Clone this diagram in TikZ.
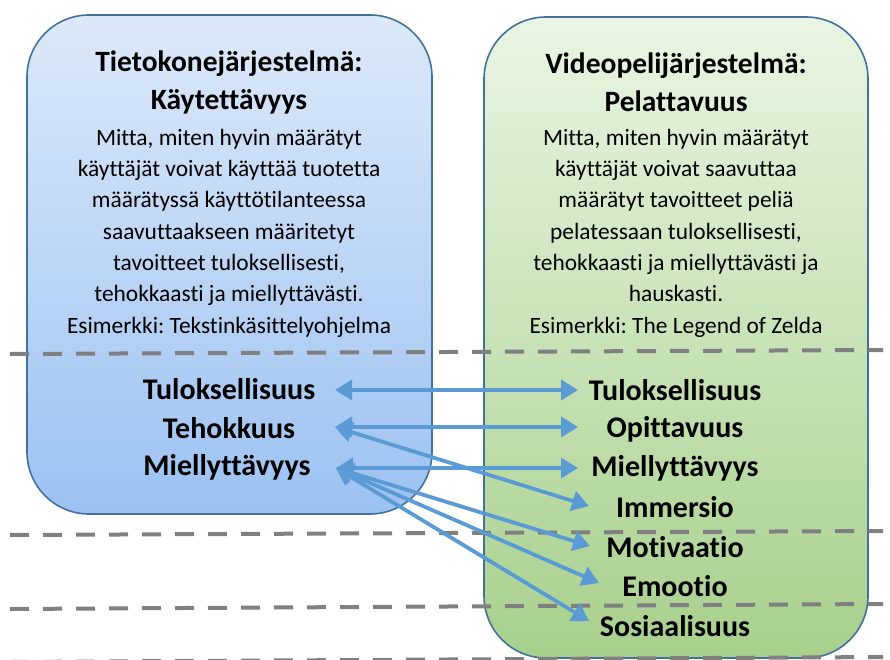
\documentclass[tikz,border=0pt]{standalone}
\usepackage{fontspec}
\setmainfont{Carlito}[Ligatures={NoCommon}]
\frenchspacing
\usetikzlibrary{arrows.meta}
\definecolor{edgeblue}{RGB}{65,113,156}
\definecolor{arrowblue}{RGB}{91,155,213}
\definecolor{dashgray}{RGB}{128,128,128}
\definecolor{blueTop}{RGB}{221,233,249}
\definecolor{blueBot}{RGB}{156,194,242}
\definecolor{greenTop}{RGB}{234,245,228}
\definecolor{greenBot}{RGB}{168,208,140}
\tikzset{
  panel/.style={draw=edgeblue, line width=1.6pt, rounded corners=62pt, inner sep=0pt},
  titletext/.style={align=center, font=\fontsize{29.5}{38}\selectfont\bfseries, inner sep=0pt},
  bodytext/.style={align=center, font=\fontsize{23.4}{31.3}\selectfont, inner sep=0pt},
  itemtext/.style={font=\fontsize{30}{34}\selectfont\bfseries, inner sep=0pt},
  divider/.style={draw=dashgray, line width=4pt, dash pattern=on 19pt off 14pt},
  link/.style={draw=arrowblue, line width=3.8pt,
    {Triangle[length=17pt,width=20pt]}-{Triangle[length=17pt,width=20pt]}}
}
\begin{document}
\begin{tikzpicture}[x=1pt,y=-1pt]
\useasboundingbox (0,0) rectangle (890,660);
\clip (0,0) rectangle (890,660);

% the two system panels
\node[panel, top color=blueTop, bottom color=blueBot,
      minimum width=405pt, minimum height=499pt] (usab) at (229.5,264.5) {};
\node[panel, top color=greenTop, bottom color=greenBot,
      minimum width=384pt, minimum height=641pt] (play) at (676,337.5) {};

% dashed separators
\draw[divider] (10,354) -- (883,350);
\draw[divider] (10,535) -- (883,531);
\draw[divider] (10,609) -- (883,604);
\draw[divider] (10,662) -- (883,657);

% panel headings and descriptions
\node[titletext] (usabT) at (229,82) {Tietokonejärjestelmä:\\Käytettävyys};
\node[titletext] (playT) at (676,82) {Videopelijärjestelmä:\\Pelattavuus};
\node[bodytext] (usabD) at (229,233) {Mitta, miten hyvin määrätyt\\käyttäjät voivat käyttää tuotetta\\määrätyssä käyttötilanteessa\\saavuttaakseen määritetyt\\tavoitteet tuloksellisesti,\\tehokkaasti ja miellyttävästi.\\Esimerkki: Tekstinkäsittelyohjelma};
\node[bodytext] (playD) at (676,233) {Mitta, miten hyvin määrätyt\\käyttäjät voivat saavuttaa\\määrätyt tavoitteet peliä\\pelatessaan tuloksellisesti,\\tehokkaasti ja miellyttävästi ja\\hauskasti.\\Esimerkki: The Legend of Zelda};

% usability criteria
\node[itemtext] (l1) at (229,389) {Tuloksellisuus};
\node[itemtext] (l2) at (229,428) {Tehokkuus};
\node[itemtext] (l3) at (227,467) {Miellyttävyys};

% playability criteria
\node[itemtext] (r1) at (675,390) {Tuloksellisuus};
\node[itemtext] (r2) at (675,429) {Opittavuus};
\node[itemtext] (r3) at (675,468) {Miellyttävyys};
\node[itemtext] (r4) at (675,507) {Immersio};
\node[itemtext] (r5) at (675,547) {Motivaatio};
\node[itemtext] (r6) at (675,586) {Emootio};
\node[itemtext] (r7) at (675,626) {Sosiaalisuus};

% arrow end points
\coordinate (a1) at (335,390);
\coordinate (a2) at (335,427);
\coordinate (a3) at (336,468);
\coordinate (b1) at (578,390);
\coordinate (b2) at (578,427);
\coordinate (b3) at (578,468);
\coordinate (b4) at (589,506);
\coordinate (b5) at (590,546);
\coordinate (b6) at (599,583);
\coordinate (b7) at (589,621);

% correspondences
\draw[link] (a1) -- (b1);
\draw[link] (a2) -- (b2);
\draw[link] (a2) -- (b4);
\draw[link] (a3) -- (b3);
\draw[link] (a3) -- (b5);
\draw[link] (a3) -- (b6);
\draw[link] (a3) -- (b7);
\end{tikzpicture}
\end{document}
